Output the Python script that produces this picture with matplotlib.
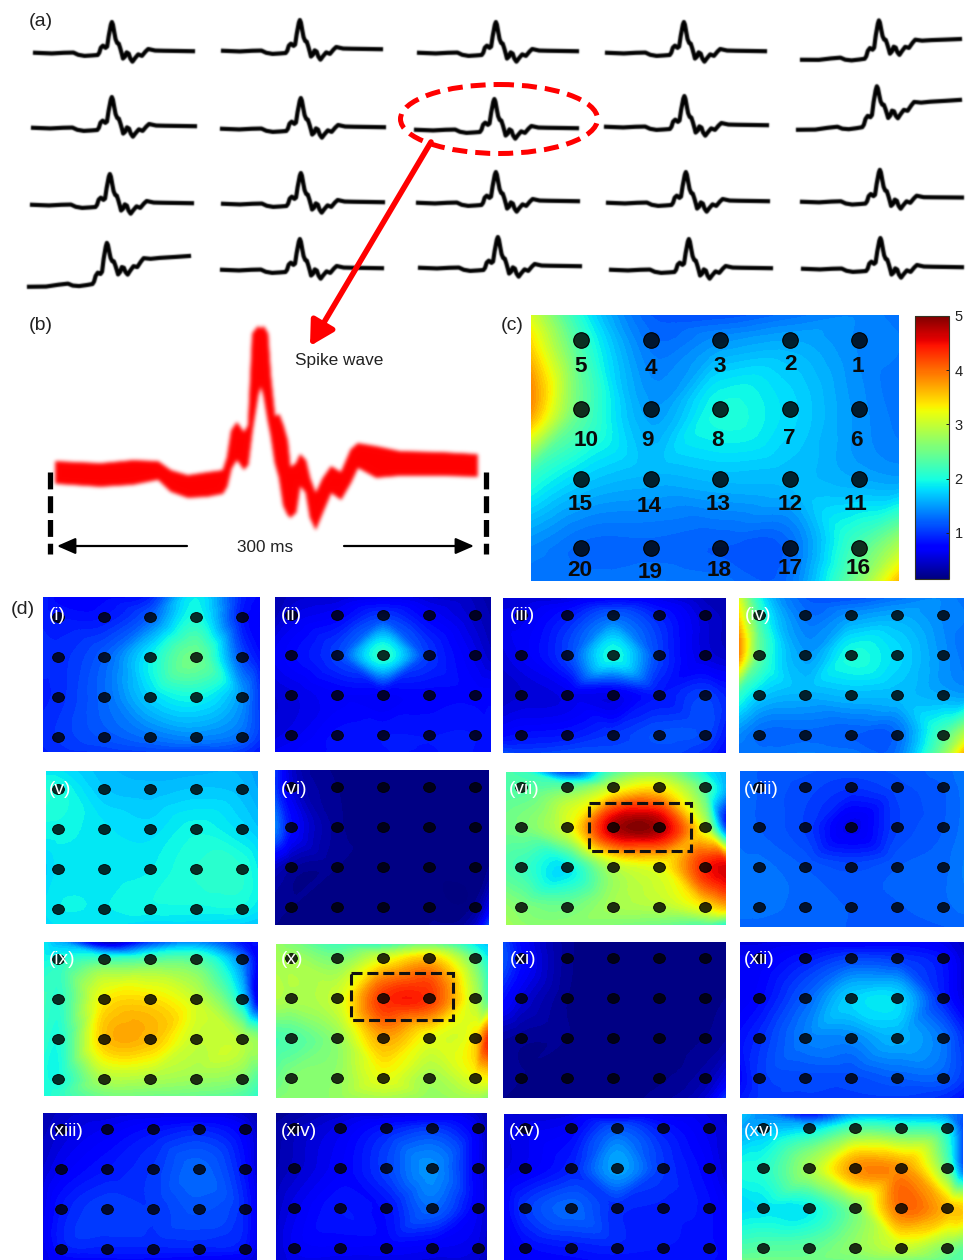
import matplotlib
matplotlib.use("Agg")
import matplotlib.pyplot as plt
import matplotlib.tri as mtri
import numpy as np
from matplotlib.cm import ScalarMappable
from matplotlib.colors import Normalize
from matplotlib.patches import Ellipse, Rectangle
from matplotlib.path import Path
from matplotlib.transforms import Affine2D

plt.rcParams["font.family"] = ["Liberation Sans", "DejaVu Sans"]

# spike wave, time in ms, amplitude in arbitrary units
time_ms = [0, 32, 55, 73, 82, 94, 108, 119, 122, 125, 129, 134, 137, 140, 144, 146, 148, 151, 153,
           156, 159, 162, 165, 167, 171, 174, 178, 181, 185, 190, 196, 203, 210, 215, 228, 245, 274, 300]
spike_wave = [1, -2, 1, 2, -8, -13, -11, -9, 1, 24, 33, 23, 29, 77, 127, 139, 127, 87, 62,
              45, 42, 20, -6, -25, -16, 3, -3, -25, -39, -23, -6, -13, 7, 18, 11, 10, 9, 8]
band_upper = [11, 9, 12, 11, 2, -3, 0, 2, 15, 42, 50, 40, 47, 139, 146, 144, 146, 139, 97,
              56, 58, 47, 32, 5, 9, 18, 12, -6, -21, -6, 6, 0, 23, 29, 26, 21, 20, 18]
band_lower = [-11, -14, -12, -7, -19, -25, -24, -21, -14, 4, 13, 3, 8, 42, 77, 87, 77, 52, 38,
              10, -5, -33, -42, -45, -40, -13, -20, -45, -57, -40, -20, -27, -10, 5, -5, -3, -3, -4]
drift_profile = [0, .03, .07, .1, .11, .13, .15, .17, .18, .2, .24, .27, .3, .38, .42, .45, .47, .5, .52,
                 .54, .56, .58, .6, .62, .64, .66, .68, .7, .72, .74, .76, .78, .82, .85, .88, .92, .96, 1]
# baseline drift of the 20 traces in panel (a)
trace_drift = [0, 0, 0, 0, 86,
               0, 0, 0, 0, 127,
               0, 0, 0, 0, 12,
               131, 0, 0, 0, 0]

# (c) and (iv) share one map. rows: top edge, 4 electrode rows, bottom edge
heat_iv = [[3.1, 2.0, 1.2, 1.15, 1.3, 1.4, 1.3],
           [3.4, 2.2, 1.3, 1.45, 1.55, 1.4, 1.35],
           [3.8, 2.4, 1.5, 2.0, 1.8, 1.45, 1.3],
           [2.1, 1.75, 1.6, 1.65, 1.65, 1.55, 1.5],
           [1.4, 1.25, 1.25, 1.2, 1.25, 2.3, 2.9],
           [1.3, 1.3, 1.35, 1.3, 1.3, 2.6, 3.6]]
heat_i = [[.9, .75, .75, .9, 1.9, .9, .75],
          [.9, .85, .85, 1.2, 2.0, .85, .7],
          [.95, .95, 1.2, 1.9, 2.5, 1.1, .8],
          [.9, .95, 1.25, 1.75, 1.95, 1.45, 1.0],
          [.95, 1.0, 1.15, 1.3, 1.4, 1.25, 1.0],
          [.9, .95, 1.0, 1.05, 1.05, 1.0, .85]]
heat_ii = [[.35, .45, .5, .6, .5, .4, .3],
           [.4, .55, .7, 1.0, .7, .45, .35],
           [.65, .75, 1.05, 2.1, 1.0, .6, .45],
           [.5, .55, .7, .7, .75, .75, .75],
           [.55, .6, .8, .85, .85, .85, .8],
           [.65, .7, .8, .85, .85, .85, .8]]
heat_iii = [[.5, .5, .55, .7, .6, .4, .35],
            [.6, .6, .85, 1.2, .9, .5, .4],
            [.55, .65, 1.05, 2.0, 1.05, .55, .45],
            [.45, .5, .6, .6, .85, 1.05, .9],
            [.75, .8, .85, 1.0, 1.15, 1.1, .85],
            [1.1, 1.05, 1.1, 1.1, 1.1, .95, .75]]
heat_v = [[1.85, 1.85, 1.65, 1.6, 1.6, 1.6, 1.5],
          [2.05, 2.0, 1.7, 1.65, 1.7, 1.65, 1.55],
          [1.95, 1.95, 1.85, 1.8, 1.95, 1.8, 1.7],
          [1.75, 1.85, 1.85, 1.9, 2.05, 2.05, 1.9],
          [1.85, 1.9, 1.9, 1.95, 1.95, 1.95, 1.85],
          [1.8, 1.85, 1.85, 1.8, 1.8, 1.75, 1.7]]
heat_vi = [[1.0, .5, .2, .2, .2, .2, .2],
           [1.0, .55, .22, .2, .2, .2, .2],
           [1.35, .8, .25, .2, .17, .2, .2],
           [.45, .3, .22, .2, .2, .2, .22],
           [.25, .22, .2, .2, .2, .25, .6],
           [.22, .2, .2, .2, .22, .45, 1.1]]
heat_vii = [[2.3, 2.2, 1.0, 2.3, 2.7, 1.9, 1.6],
            [2.3, 2.3, 2.4, 3.0, 3.3, 2.3, 1.6],
            [2.5, 2.55, 3.1, 4.75, 4.8, 3.0, 1.0],
            [2.3, 2.2, 1.85, 2.9, 3.2, 4.4, 4.6],
            [2.7, 2.6, 2.5, 2.8, 2.9, 3.3, 3.6],
            [2.8, 2.7, 2.65, 2.6, 2.5, 2.3, 2.0]]
heat_viii = [[1.25, 1.2, 1.15, 1.1, 1.15, 1.25, 1.3],
             [1.25, 1.2, 1.1, 1.0, 1.1, 1.2, 1.3],
             [1.25, 1.2, 1.05, .6, 1.05, 1.2, 1.3],
             [1.3, 1.3, 1.2, 1.1, 1.2, 1.25, 1.35],
             [1.3, 1.3, 1.25, 1.2, 1.2, 1.25, 1.3],
             [1.25, 1.25, 1.25, 1.2, 1.2, 1.2, 1.2]]
heat_ix = [[1.9, 1.6, .35, 1.0, 1.4, .8, .8],
           [1.95, 2.0, 2.2, 2.3, 2.3, 1.3, .7],
           [2.2, 2.1, 3.3, 3.4, 3.0, 1.8, .6],
           [2.1, 2.0, 3.55, 3.6, 3.0, 2.9, 2.7],
           [2.0, 1.95, 2.85, 2.85, 2.75, 2.6, 2.3],
           [2.0, 2.1, 2.5, 2.5, 2.45, 2.3, 2.1]]
heat_x = [[2.75, 2.6, 2.2, 2.2, 2.5, 1.85, 1.7],
          [2.8, 2.8, 2.55, 3.1, 3.5, 2.4, 1.9],
          [2.9, 2.85, 3.05, 4.3, 4.3, 2.9, 2.3],
          [2.25, 2.3, 2.7, 3.7, 3.2, 3.4, 4.3],
          [2.45, 2.6, 2.7, 3.2, 2.8, 3.2, 3.3],
          [2.6, 2.65, 2.7, 2.85, 2.7, 2.8, 2.6]]
heat_xi = [[1.1, .75, .25, .2, .2, .2, .2],
           [1.15, .8, .25, .2, .2, .2, .2],
           [.8, .55, .22, .17, .2, .2, .22],
           [.3, .25, .22, .2, .2, .22, .28],
           [.25, .22, .2, .2, .2, .35, .6],
           [.22, .2, .2, .2, .25, .5, 1.0]]
heat_xii = [[.55, .55, .6, .65, .7, .6, .45],
            [.65, .65, .85, 1.05, 1.0, .8, .5],
            [.65, .75, 1.2, 1.75, 1.8, .9, .55],
            [.8, .95, 1.35, 1.4, 1.6, 1.3, .95],
            [.75, 1.0, 1.1, 1.1, 1.2, 1.2, 1.0],
            [.85, 1.0, 1.05, 1.05, 1.05, .95, .8]]
heat_xiii = [[.35, .45, .5, .55, .55, .45, .35],
             [.4, .5, .65, .8, .9, .65, .45],
             [.5, .65, .85, 1.0, 1.25, .8, .5],
             [.6, .85, 1.05, 1.0, 1.15, .9, .6],
             [.6, .85, .9, .9, .9, .8, .55],
             [.6, .7, .75, .75, .7, .6, .5]]
heat_xiv = [[.25, .3, .45, .5, .55, .45, .35],
            [.3, .4, .6, .85, 1.0, .6, .4],
            [.35, .45, .7, 1.05, 1.45, .65, .45],
            [.45, .6, .85, .8, 1.25, .65, .5],
            [.5, .65, .7, .7, .65, .55, .45],
            [.5, .6, .6, .6, .55, .5, .4]]
heat_xv = [[.5, .5, .55, .6, .6, .55, .45],
           [.55, .6, .7, 1.15, .85, .6, .5],
           [.55, .65, .9, 1.55, 1.0, .7, .5],
           [.7, 1.0, 1.25, .95, .9, .8, .65],
           [.65, .75, .85, .9, .85, .8, .75],
           [.7, .7, .75, .8, .8, .8, .7]]
heat_xvi = [[1.7, 1.4, .8, 1.5, 1.5, 1.4, 1.2],
            [1.55, 1.6, 1.75, 2.3, 2.2, 1.9, 1.1],
            [2.0, 2.05, 2.8, 3.8, 3.8, 2.4, 1.2],
            [1.8, 1.85, 1.9, 2.6, 4.0, 3.6, 3.5],
            [2.3, 2.35, 2.4, 2.7, 3.0, 2.6, 2.4],
            [2.5, 2.5, 2.5, 2.55, 2.6, 2.4, 2.3]]
panel_maps = [heat_i, heat_ii, heat_iii, heat_iv, heat_v, heat_vi, heat_vii, heat_viii,
              heat_ix, heat_x, heat_xi, heat_xii, heat_xiii, heat_xiv, heat_xv, heat_xvi]
panel_names = ["(i)", "(ii)", "(iii)", "(iv)", "(v)", "(vi)", "(vii)", "(viii)",
               "(ix)", "(x)", "(xi)", "(xii)", "(xiii)", "(xiv)", "(xv)", "(xvi)"]
electrode_labels = ["5", "4", "3", "2", "1", "10", "9", "8", "7", "6",
                    "15", "14", "13", "12", "11", "20", "19", "18", "17", "16"]
cbar_ticks = [1, 2, 3, 4, 5]

# layout in reference pixels
W, H = 970, 1260
trace_x0 = [35, 223, 419, 607, 802, 33, 222, 416, 606, 798, 32, 223, 418, 608, 802, 29, 222, 420, 611, 803]
trace_x1 = [193, 381, 577, 765, 960, 195, 384, 577, 767, 960, 192, 383, 578, 768, 962, 189, 382, 580, 771, 962]
trace_y = [53, 51, 53, 53, 60, 128, 129, 130, 127, 130, 205, 204, 203, 203, 202, 287, 270, 268, 270, 269]
panel_x0 = [43, 275, 503, 739, 46, 275, 506, 740, 44, 276, 503, 740, 43, 276, 504, 742]
panel_x1 = [260, 491, 726, 964, 258, 489, 726, 964, 258, 488, 726, 964, 257, 487, 727, 963]
panel_y0 = [597, 597, 598, 598, 771, 770, 772, 771, 942, 944, 942, 942, 1113, 1113, 1114, 1114]
panel_y1 = [752, 752, 753, 753, 924, 925, 925, 927, 1096, 1098, 1098, 1098, 1260, 1260, 1260, 1260]
elec_x = [58, 291, 521, 759, 58, 291, 521, 759, 58, 291, 521, 759, 61, 294, 525, 763]
elec_y = [617, 615, 615, 615, 789, 787, 787, 787, 959, 958, 958, 958, 1129, 1128, 1128, 1128]
name_x = [49, 281, 510, 745, 49, 281, 509, 744, 49, 281, 510, 744, 49, 281, 509, 744]
name_y = [615, 615, 615, 615, 789, 789, 789, 789, 960, 960, 960, 960, 1132, 1132, 1132, 1132]
label_x = [581, 651, 720, 791, 858, 586, 648, 718, 789, 856, 580, 649, 718, 790, 856, 580, 650, 719, 790, 858]
label_y = [366, 368, 366, 365, 366, 440, 441, 440, 439, 440, 504, 506, 505, 504, 505, 571, 572, 570, 569, 569]

norm = Normalize(0.15, 5)
levels = np.linspace(0.15, 5, 70)


def soft_edge(rgb, sigma):
    # blur only the alpha of one drawn artist, the reference is a soft raster
    kernel = np.exp(-0.5 * (np.arange(-3, 4) / sigma) ** 2)
    kernel /= kernel.sum()

    def f(img, dpi):
        out = np.zeros((img.shape[0] + 8, img.shape[1] + 8, 4))
        a = np.pad(img[:, :, 3], 4)
        a = np.apply_along_axis(np.convolve, 0, a, kernel, mode="same")
        a = np.apply_along_axis(np.convolve, 1, a, kernel, mode="same")
        out[:, :, :3] = rgb
        out[:, :, 3] = a
        return out, -4, -4
    return f


def px_axes(x0, y0, x1, y1, **kw):
    ax = fig.add_axes([x0 / W, 1 - y1 / H, (x1 - x0) / W, (y1 - y0) / H], **kw)
    ax.patch.set_alpha(0)
    return ax


def heat_panel(ax, z, left, right, top, bottom):
    xs, ys = np.meshgrid([left, 0, 1, 2, 3, 4, right], [top, 0, 1, 2, 3, bottom])
    tri = mtri.Triangulation(xs.ravel(), ys.ravel())
    vals = np.array(z).ravel()
    interp = mtri.CubicTriInterpolator(tri, vals, kind="geom")
    fine_tri, fine_z = mtri.UniformTriRefiner(tri).refine_field(vals, triinterpolator=interp, subdiv=3)
    ax.tricontourf(fine_tri, fine_z, levels=levels, cmap="jet", norm=norm, extend="both")
    ax.set_xlim(left, right)
    ax.set_ylim(bottom, top)
    ax.axis("off")


fig = plt.figure(figsize=(W / 100, H / 100), dpi=100, facecolor="white")

# (a) 20 traces
t = np.array(time_ms)
wave = np.array(spike_wave)
scale_a = 0.223
for i in range(20):
    ax = px_axes(trace_x0[i], trace_y[i] - 50, trace_x1[i], trace_y[i] + 20)
    line, = ax.plot(t, wave + trace_drift[i] * np.array(drift_profile), color="black", lw=3.0, clip_on=False,
                    solid_joinstyle="round")
    line.set_agg_filter(soft_edge((0, 0, 0), 0.7))
    ax.set_xlim(0, 300)
    ax.set_ylim(-20 / scale_a, 50 / scale_a)
    ax.axis("off")

# (b) overlaid spikes
ax = px_axes(55, 300, 477, 540)
band = ax.fill_between(time_ms, band_lower, band_upper, color="#ff0000", lw=0.5)
band.set_agg_filter(soft_edge((1, 0, 0), 1.4))
ax.set_xlim(0, 300)
ax.set_ylim(472 - 540, 472 - 300)
ax.axis("off")

# (c) map and colour bar
ax = px_axes(531, 315, 899, 581)
left, right = (531 - 581) / 69.5, (899 - 581) / 69.5
top, bottom = (315 - 340) / 69.3, (581 - 340) / 69.3
heat_panel(ax, heat_iv, left, right, top, bottom)
ex, ey = np.meshgrid(range(5), range(4))
ax.scatter(ex.ravel(), ey.ravel(), s=125, facecolor=(0, 0, 0, 0.82), edgecolor="black", lw=0.8, clip_on=False)

cax = px_axes(915, 316, 949, 579)
cb = fig.colorbar(ScalarMappable(norm=norm, cmap="jet"), cax=cax, ticks=cbar_ticks)
cb.ax.tick_params(labelsize=10.5, length=2, width=0.7, direction="in", pad=4, colors="#222222")
cb.outline.set_edgecolor("#333322")
cb.outline.set_linewidth(0.8)

# (d) 16 maps
oval = Path.unit_circle().transformed(Affine2D().scale(1.2, 1))
for i, z in enumerate(panel_maps):
    ax = px_axes(panel_x0[i], panel_y0[i], panel_x1[i], panel_y1[i])
    left = (panel_x0[i] - elec_x[i]) / 46
    right = (panel_x1[i] - elec_x[i]) / 46
    top = (panel_y0[i] - elec_y[i]) / 40
    bottom = (panel_y1[i] - elec_y[i]) / 40
    heat_panel(ax, z, left, right, top, bottom)
    ax.scatter(ex.ravel(), ey.ravel(), s=72, marker=oval, facecolor=(0, 0, 0, 0.82), edgecolor="black", lw=0.6)

# overlay for labels and annotations, in pixels
over = fig.add_axes([0, 0, 1, 1], zorder=10)
over.set_xlim(0, W)
over.set_ylim(H, 0)
over.axis("off")

for s, x, y in [("(a)", 29, 22), ("(b)", 29, 325), ("(c)", 501, 326), ("(d)", 11, 609)]:
    over.text(x, y, s, fontsize=14, color="#222222", ha="left", va="center")
over.text(295, 361, "Spike wave", fontsize=12.4, color="#222222", ha="left", va="center")
over.text(265, 548, "300 ms", fontsize=12.3, color="#222222", ha="center", va="center")

for s, x, y in zip(electrode_labels, label_x, label_y):
    over.text(x, y, s, fontsize=16.2, fontweight="bold", color="#0a0a0a", ha="center", va="center")
for s, x, y in zip(panel_names, name_x, name_y):
    over.text(x, y, s, fontsize=13.8, color="white", ha="left", va="center")

# red oval and arrow
over.add_patch(Ellipse((499, 119), 197, 69, fill=False, ec="#ff0000", lw=3.6, ls=(0, (3.0, 1.6))))
over.annotate("", xy=(310, 346), xytext=(431, 142),
              arrowprops=dict(arrowstyle="-|>,head_length=0.9,head_width=0.5", color="#ff0000", lw=4,
                              mutation_scale=16, shrinkA=0, shrinkB=0))

# width marks and arrows of (b)
for x in (50, 486):
    over.plot([x, x], [472, 554], color="black", lw=3.8, ls=(0, (3.2, 1.3)), dash_capstyle="butt")
for x_from, x_to in ((187, 57), (344, 474)):
    over.annotate("", xy=(x_to, 546), xytext=(x_from, 546),
                  arrowprops=dict(arrowstyle="-|>,head_length=0.8,head_width=0.35", color="black", lw=1.6,
                                  mutation_scale=14, shrinkA=0, shrinkB=0))

# dashed boxes
for x0, y0, x1, y1 in ((589, 803, 691, 851), (351, 973, 453, 1020)):
    over.add_patch(Rectangle((x0, y0), x1 - x0, y1 - y0, fill=False, ec="#111111", lw=2.2, ls=(0, (3.6, 1.6))))

fig.savefig("out.png", dpi=100, facecolor="white")
